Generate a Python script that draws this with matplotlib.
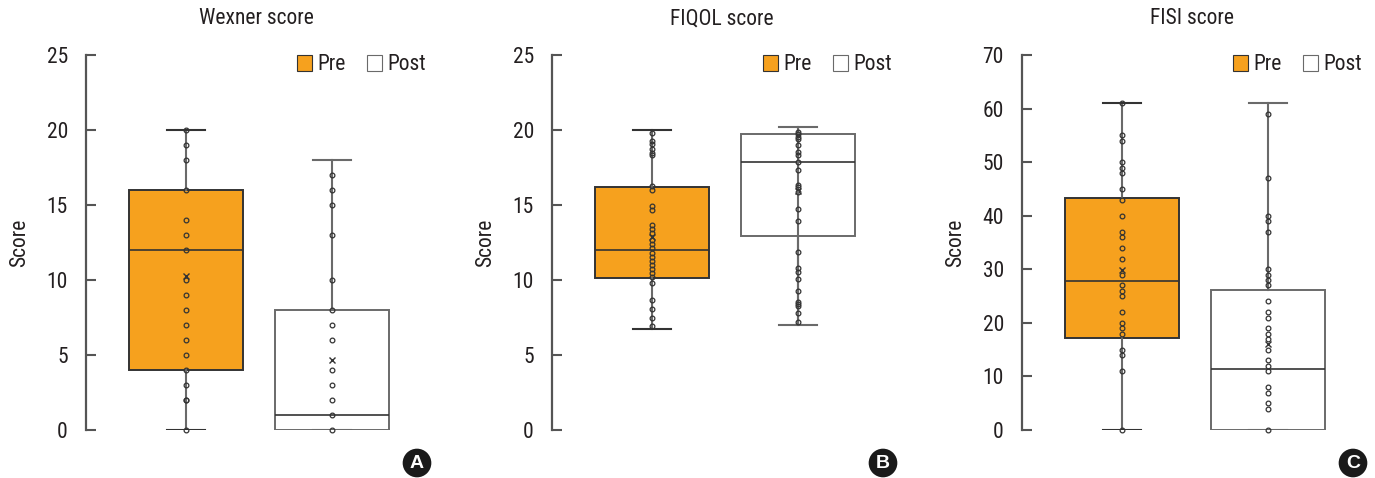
import matplotlib
matplotlib.use("Agg")
import matplotlib.pyplot as plt
from matplotlib.patches import Patch

plt.rcParams['font.family'] = ['Roboto Condensed', 'Liberation Sans Narrow', 'Roboto', 'DejaVu Sans']

groups = ["Pre", "Post"]
titles = ["Wexner score", "FIQOL score", "FISI score"]
panel_letters = ["A", "B", "C"]
y_max = [25, 25, 70]
y_step = [5, 5, 10]

# ---- Wexner ----
wex_pre_pts = [0, 2, 2, 3, 4, 5, 6, 7, 8, 9, 10, 12, 13, 14, 16, 18, 19, 20]
wex_post_pts = [0, 1, 2, 3, 4, 6, 7, 8, 10, 13, 15, 16, 17]
wex_q1 = [4, 0]
wex_med = [12, 1]
wex_q3 = [16, 8]
wex_lo = [0, 0]
wex_hi = [20, 18]
wex_mean = [10.3, 4.67]

# ---- FIQOL ----
fiq_pre_pts = [6.96, 7.44, 8.04, 8.67, 9.78, 10.18, 10.47, 10.73, 11.0, 11.29,
               11.56, 11.82, 12.11, 12.4, 12.67, 13.11, 13.42, 13.64, 14.67,
               14.93, 16.0, 16.27, 18.33, 18.49, 18.76, 19.04, 19.29, 19.78]
fiq_post_pts = [7.22, 7.78, 8.27, 8.4, 8.56, 9.27, 10.07, 10.56, 10.82, 11.84,
                13.93, 14.71, 15.84, 16.22, 16.33, 17.33, 17.89, 18.31, 18.51,
                18.98, 19.38, 19.56, 19.73, 19.89]
fiq_q1 = [10.11, 12.93]
fiq_med = [12.0, 17.87]
fiq_q3 = [16.2, 19.73]
fiq_lo = [6.73, 7.0]
fiq_hi = [20.0, 20.22]
fiq_mean = [12.9, 15.93]

# ---- FISI ----
fisi_pre_pts = [0, 11, 14, 15, 18, 19, 20, 22, 25, 26, 27, 29, 32, 34, 36, 37,
                40, 43, 45, 48, 49, 50, 54, 55, 61]
fisi_post_pts = [0, 4, 5, 7, 8, 11, 12, 13, 15, 17, 18, 19, 21, 22, 24, 27, 28,
                 29, 30, 37, 39, 40, 47, 59]
fisi_q1 = [17.2, 0]
fisi_med = [27.9, 11.4]
fisi_q3 = [43.3, 26.2]
fisi_lo = [0, 0]
fisi_hi = [61, 61]
fisi_mean = [29.9, 16.0]

panels = [
    ([wex_pre_pts, wex_post_pts], wex_q1, wex_med, wex_q3, wex_lo, wex_hi, wex_mean),
    ([fiq_pre_pts, fiq_post_pts], fiq_q1, fiq_med, fiq_q3, fiq_lo, fiq_hi, fiq_mean),
    ([fisi_pre_pts, fisi_post_pts], fisi_q1, fisi_med, fisi_q3, fisi_lo, fisi_hi, fisi_mean),
]
full_whisker = [False, True, False]

ORANGE = '#F6A11E'
DARK = '#333333'
GREY = '#6a6a6a'
TEXT = '#231f20'

W, H = 1375, 478
fig = plt.figure(figsize=(W / 100, H / 100), dpi=100)
lefts = [86, 552, 1022]
ax_w = 340
ax_bottom = 48
ax_h = 375

positions = [1, 2]
for i, (pts, q1, med, q3, lo, hi, mean) in enumerate(panels):
    ax = fig.add_axes([lefts[i] / W, ax_bottom / H, ax_w / W, ax_h / H])
    for j in range(2):
        stats = [dict(med=med[j], q1=q1[j], q3=q3[j], whislo=lo[j], whishi=hi[j],
                      mean=mean[j], fliers=[])]
        face = ORANGE if j == 0 else 'white'
        edge = DARK if j == 0 else GREY
        ax.bxp(stats, positions=[positions[j]], widths=0.78, capwidths=0.26,
               patch_artist=True, showmeans=True, showfliers=False,
               boxprops=dict(facecolor=face, edgecolor=edge, linewidth=1.4),
               medianprops=dict(color=DARK, linewidth=1.2),
               whiskerprops=dict(color=GREY, linewidth=1.5),
               capprops=dict(color=DARK if j == 0 else GREY, linewidth=1.5),
               meanprops=dict(marker='x', markeredgecolor=DARK, markersize=5,
                              markeredgewidth=1.0),
               manage_ticks=False, zorder=2)
        if full_whisker[i] and j == 1:
            ax.vlines(positions[j], lo[j], hi[j], color=GREY, linewidth=1.5, zorder=3)
        ax.plot([positions[j]] * len(pts[j]), pts[j], 'o', mfc='none', mec=DARK,
                ms=3.4, mew=0.9, clip_on=False, zorder=4)

    ax.set_xlim(1 - 100 / 146, 2 + 94 / 146)
    ax.set_ylim(0, y_max[i])
    ax.set_yticks(list(range(0, y_max[i] + 1, y_step[i])))
    ax.set_xticks([])
    for s in ['top', 'right', 'bottom']:
        ax.spines[s].set_visible(False)
    ax.spines['left'].set_color('#555555')
    ax.spines['left'].set_linewidth(1.6)
    ax.tick_params(axis='y', direction='in', length=7, width=1.5, color='#555555',
                   pad=13, labelsize=15.5, labelcolor=TEXT)
    ax.set_ylabel('Score', fontsize=15.5, color=TEXT, labelpad=12)
    ax.set_title(titles[i], fontsize=15.5, color=TEXT, pad=22)

    handles = [Patch(facecolor=ORANGE, edgecolor=DARK, linewidth=0.8, label=groups[0]),
               Patch(facecolor='white', edgecolor=GREY, linewidth=0.8, label=groups[1])]
    leg = ax.legend(handles=handles, loc='center right', bbox_to_anchor=(1.0, 1 - 10 / 375),
                    ncol=2, frameon=False, fontsize=15.5, handlelength=0.7, handleheight=0.7,
                    handletextpad=0.25, columnspacing=1.0, borderpad=0, borderaxespad=0)
    for t in leg.get_texts():
        t.set_color(TEXT)

    ax.text(1 - 9 / ax_w, -33 / ax_h, panel_letters[i], transform=ax.transAxes,
            ha='center', va='center', fontsize=14, fontweight='bold', color='white',
            family=['Liberation Sans', 'DejaVu Sans'],
            bbox=dict(boxstyle='circle,pad=0.3', facecolor='#1a1a1a', edgecolor='none'),
            clip_on=False)

fig.savefig('out.png', dpi=100)
